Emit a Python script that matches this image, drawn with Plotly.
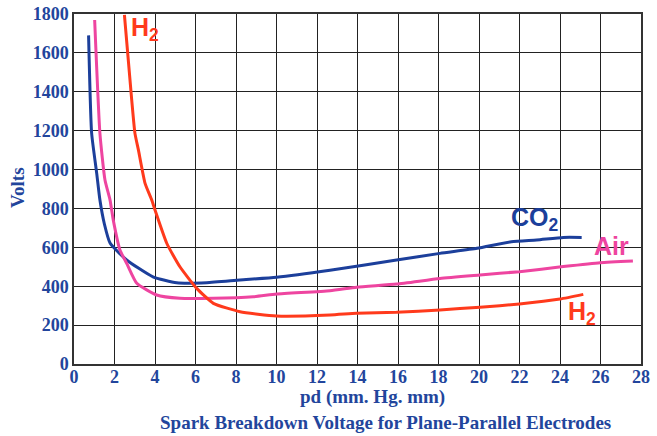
import plotly.graph_objects as go

co2_x = [0.72, 0.87, 1.12, 1.28, 1.5, 1.78, 2.6, 3.9, 5.07, 6.55, 8.2, 10.0, 12.64, 15.93, 18.07, 19.9, 21.6, 22.85, 24.16, 25.07]
co2_v = [1690, 1188, 982, 843, 720, 622, 535, 448, 418, 418, 432, 446, 482, 535, 569, 595, 629, 638, 651, 651]

air_x = [1.02, 1.28, 1.53, 1.78, 1.94, 2.27, 2.6, 3.1, 4.08, 5.23, 6.88, 8.85, 10.0, 12.64, 13.96, 15.93, 18.07, 20.05, 22.0, 24.16, 25.98, 27.6]
air_v = [1769, 1186, 946, 843, 740, 586, 518, 415, 355, 338, 338, 346, 360, 377, 395, 411, 440, 458, 475, 501, 521, 530]

h2_x = [2.49, 2.85, 3.01, 3.18, 3.51, 3.84, 4.0, 4.58, 5.23, 6.06, 6.88, 8.2, 10.0, 12.64, 13.96, 15.93, 18.07, 20.05, 22.0, 24.0, 25.15]
h2_v = [1795, 1358, 1186, 1101, 929, 843, 792, 621, 500, 389, 312, 269, 247, 252, 261, 266, 278, 292, 309, 334, 358]

x_ticks = list(range(0, 29, 2))
y_ticks = list(range(0, 1801, 200))

BLUE = "#1c3f9b"
PINK = "#ee45a0"
RED = "#ff3a1c"
TXT = "#22459c"
SERIF = "Liberation Serif"

fig = go.Figure()
fig.add_trace(go.Scatter(x=co2_x, y=co2_v, mode="lines", line=dict(color=BLUE, width=3, shape="spline", smoothing=0.5)))
fig.add_trace(go.Scatter(x=air_x, y=air_v, mode="lines", line=dict(color=PINK, width=3, shape="spline", smoothing=0.5)))
fig.add_trace(go.Scatter(x=h2_x, y=h2_v, mode="lines", line=dict(color=RED, width=3, shape="spline", smoothing=0.5)))

lab_font = dict(family="Liberation Sans", size=25, weight="bold")
anns = [
    ("H<sub>2</sub>", 2.72, 1722, RED),
    ("CO<sub>2</sub>", 21.5, 745, BLUE),
    ("Air", 25.6, 607, PINK),
    ("H<sub>2</sub>", 24.3, 262, RED),
]
for t, x, y, c in anns:
    fig.add_annotation(x=x, y=y, text=t, showarrow=False, xanchor="left", yanchor="middle",
                       font=dict(lab_font, color=c))

fig.add_annotation(x=0.527, y=0, xref="paper", yref="paper", yshift=-33, yanchor="middle",
                   text="pd (mm. Hg. mm)", showarrow=False,
                   font=dict(family=SERIF, size=19, weight="bold", color=TXT))
fig.add_annotation(x=0.55, y=0, xref="paper", yref="paper", yshift=-58, yanchor="middle",
                   text="Spark Breakdown Voltage for Plane-Parallel Electrodes", showarrow=False,
                   font=dict(family=SERIF, size=19, weight="bold", color=TXT))
fig.add_annotation(x=0, y=0.503, xref="paper", yref="paper", xshift=-56, xanchor="center", yanchor="middle",
                   text="Volts", textangle=-90, showarrow=False,
                   font=dict(family=SERIF, size=19, weight="bold", color=TXT))

axis_common = dict(showgrid=True, gridcolor="#222", gridwidth=1, showline=True, linecolor="#333", linewidth=1.5,
                   mirror=True, zeroline=False, ticks="", automargin=False, ticklabeloverflow="allow",
                   tickfont=dict(family=SERIF, size=18, weight="bold", color=TXT))
fig.update_xaxes(range=[0, 28], tickvals=x_ticks, ticklabelstandoff=-4, **axis_common)
fig.update_yaxes(range=[0, 1800], tickvals=y_ticks, **axis_common)

fig.update_layout(width=657, height=436, margin=dict(l=74, r=16, t=14, b=72, autoexpand=False), plot_bgcolor="white",
                  paper_bgcolor="white", showlegend=False)
fig.write_html("out.html", config={"displayModeBar": False},
               post_script="document.body.style.margin='0px';")
